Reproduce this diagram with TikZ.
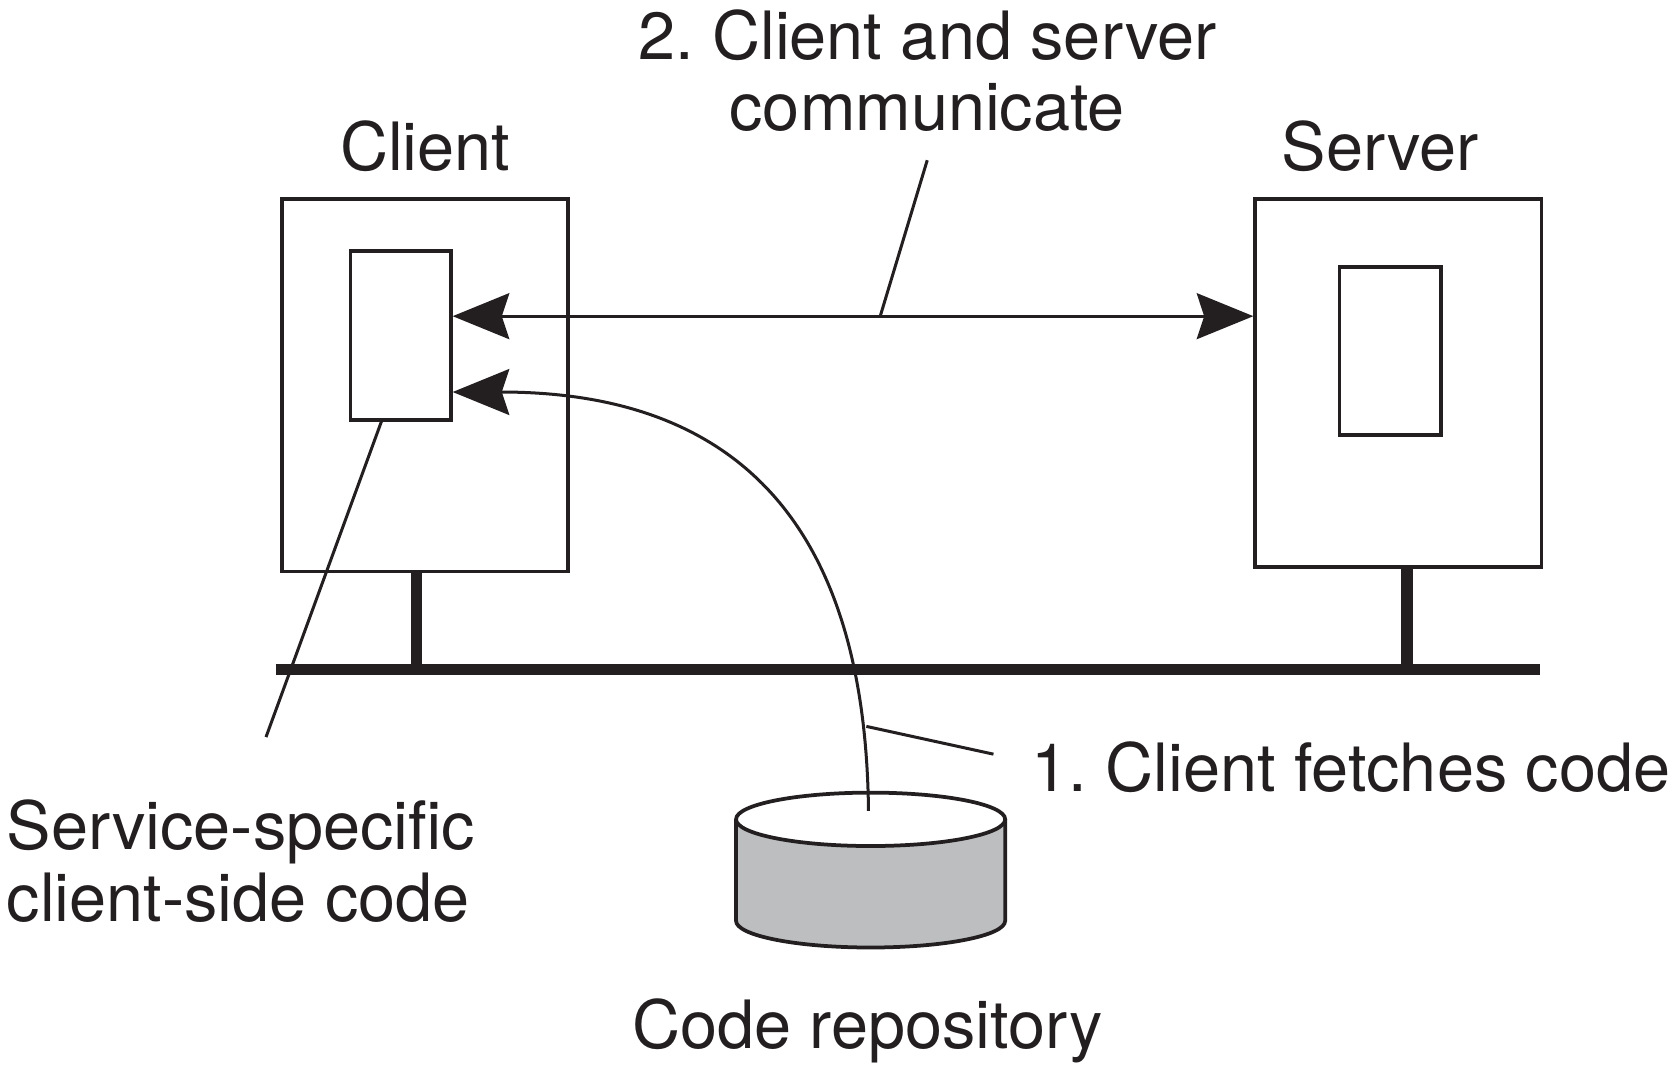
\documentclass[tikz,border=0pt]{standalone}
\usepackage{fontspec}
\setmainfont{TeX Gyre Heros}
\usepackage{tikz}
\usetikzlibrary{positioning,arrows.meta}
\definecolor{ink}{HTML}{231F20}
\definecolor{diskgray}{HTML}{BCBEC0}
\frenchspacing

\begin{document}
\begin{tikzpicture}[x=0.02cm,y=0.02cm,
    every node/.style={text=ink,font=\fontsize{35.5}{38}\selectfont},
    >={Stealth[length=1.06cm,width=0.86cm,inset=0.14cm]},
    box/.style={draw=ink,line width=2pt,inner sep=0pt},
    lead/.style={draw=ink,line width=1.6pt},
    bus/.style={draw=ink,line width=6pt},
    tag/.style={inner sep=0pt}]
  \useasboundingbox (0,0) rectangle (1568,999);
  % machines
  \node[box,minimum width=5.36cm,minimum height=6.98cm] (client) at (398,638.5) {};
  \node[box,minimum width=1.88cm,minimum height=3.16cm] (cinner) at (375,685) {};
  \node[box,minimum width=5.36cm,minimum height=6.9cm] (server) at (1309,640.5) {};
  \node[box,minimum width=1.9cm,minimum height=3.14cm] (sinner) at (1301.5,670.5) {};
  \node[tag,above=0.46cm of client] (clientlbl) {Client};
  \node[tag,above=0.46cm of server,xshift=-0.34cm] (serverlbl) {Server};
  % network
  \coordinate (busL) at (258,372); \coordinate (busR) at (1442,372);
  \coordinate (ctap) at (390,372); \coordinate (stap) at (1317,372);
  \draw[bus] (busL) -- (busR);
  \draw[bus] (ctap) -- (ctap |- client.south);
  \draw[bus] (stap) -- (stap |- server.south);
  % code repository
  \fill[diskgray] (689,232) -- (689,137) arc[start angle=180,end angle=360,x radius=2.52cm,y radius=0.5cm] -- (941,232) -- cycle;
  \draw[box] (689,232) -- (689,137) arc[start angle=180,end angle=360,x radius=2.52cm,y radius=0.5cm] -- (941,232);
  \draw[box,fill=white] (815,232) ellipse[x radius=2.52cm,y radius=0.5cm];
  \node[tag] (repolbl) at (812,34) {Code repository};
  % communication
  \coordinate (talk) at (824,703);
  \coordinate (talkfoot) at (868,849);
  \node[tag,align=center] (talktxt) at (868,933) {2. Client and server\\communicate};
  \draw[lead,<->] (cinner.east |- talk) -- (server.west |- talk);
  \draw[lead] (talkfoot) -- (talk);
  % fetching the code
  \coordinate (repotop) at (813,240);
  \coordinate (fetchA) at (811,319); \coordinate (fetchB) at (930,293);
  \draw[lead,->] (repotop) .. controls (810,519) and (680,632) .. ([yshift=-1.06cm]cinner.east);
  \draw[lead] (fetchA) -- (fetchB);
  \node[tag,anchor=west] (fetchtxt) at (965,281) {1. Client fetches code};
  % client-side code
  \coordinate (svcend) at (249,309);
  \draw[lead] ([xshift=-0.36cm]cinner.south) -- (svcend);
  \node[tag,anchor=west,align=left] (svctxt) at (6,193) {Service-specific\\client-side code};
\end{tikzpicture}
\end{document}
